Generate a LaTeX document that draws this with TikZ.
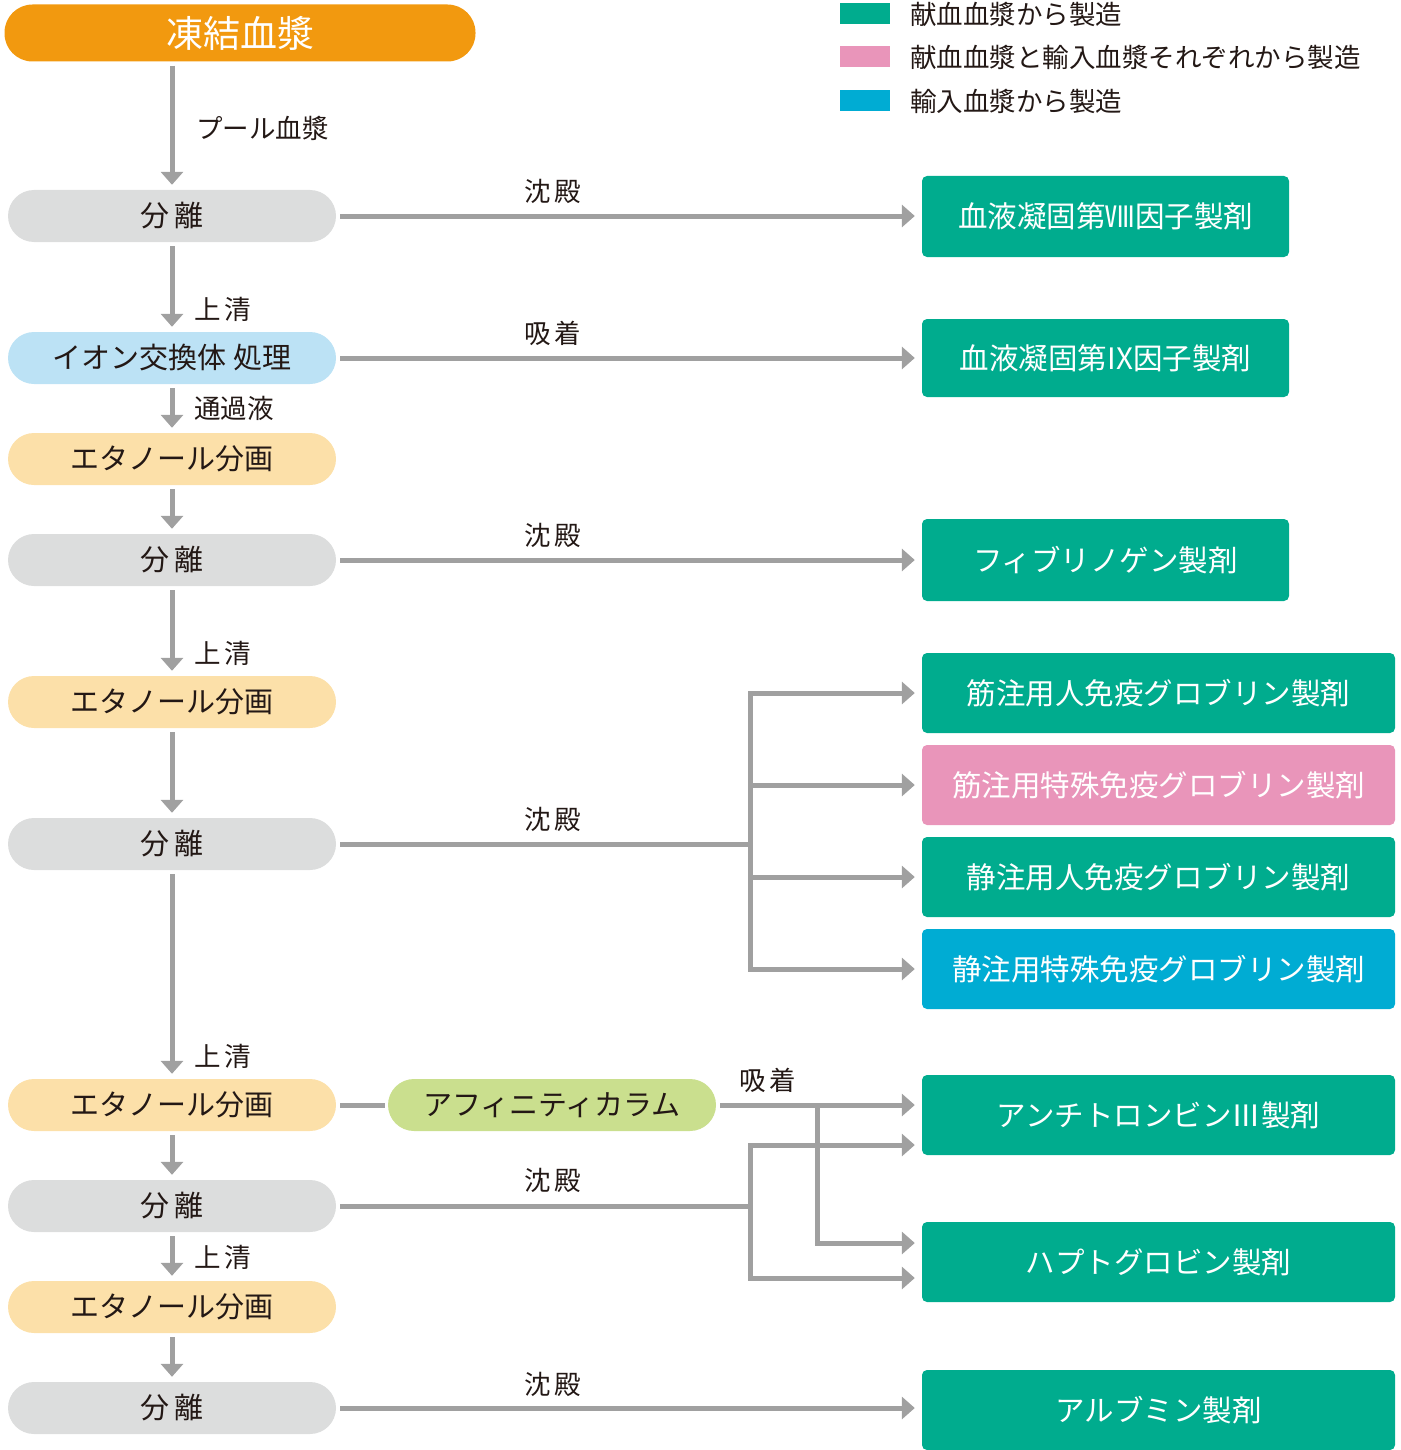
\documentclass[tikz,border=0pt]{standalone}
\usepackage{fontspec}
\setmainfont{Noto Sans CJK JP}
\usetikzlibrary{arrows.meta}
\definecolor{txt}{HTML}{231815}
\definecolor{cOrange}{HTML}{F2990F}
\definecolor{cGray}{HTML}{DCDDDD}
\definecolor{cLBlue}{HTML}{BCE2F5}
\definecolor{cLOrange}{HTML}{FCE0A9}
\definecolor{cGreen}{HTML}{CADF8E}
\definecolor{cTeal}{HTML}{00AC8E}
\definecolor{cPink}{HTML}{E995BA}
\definecolor{cBlue}{HTML}{00ACD3}
\definecolor{cArrow}{HTML}{A0A0A0}
\tikzset{
  pill/.style={rectangle, rounded corners=26pt, minimum width=328pt, minimum height=52pt, inner sep=0pt, text=txt, font=\fontsize{29pt}{31pt}\selectfont},
  prod/.style={rectangle, rounded corners=5pt, minimum height=80pt, inner sep=0pt, text=white, fill=cTeal, font=\fontsize{29.5pt}{31pt}\selectfont},
  lab/.style={text=txt, inner sep=0pt, font=\fontsize{26.5pt}{28pt}\selectfont},
  arr/.style={draw=cArrow, line width=5pt, -{Triangle[width=22pt,length=13pt]}},
  ln/.style={draw=cArrow, line width=5pt},
  vdown/.style={arr, shorten <=4pt, shorten >=5pt},
  hright/.style={arr, shorten <=4pt, shorten >=7pt},
}
\begin{document}
\begin{tikzpicture}[x=1pt,y=-1pt]
\useasboundingbox (0,0) rectangle (1400,1450);
% legend
\fill[cTeal] (840,3) rectangle (890,24);
\fill[cPink] (840,46) rectangle (890,67);
\fill[cBlue] (840,90) rectangle (890,111);
\node[lab, anchor=west] (lg1) at (910,14) {献血血漿から製造};
\node[lab, anchor=west] (lg2) at (910,57) {献血血漿と輸入血漿それぞれから製造};
\node[lab, anchor=west] (lg3) at (910,101) {輸入血漿から製造};
% left column
\node[rectangle, rounded corners=28pt, minimum width=471pt, minimum height=57pt, inner sep=0pt, fill=cOrange, text=white, font=\fontsize{37pt}{39pt}\selectfont] (top) at (240,33) {凍結血漿};
\node[pill, fill=cGray] (s1) at (172,216) {分\hspace{5pt}離};
\node[pill, fill=cLBlue] (ion) at (172,358) {イオン交換体 処理};
\node[pill, fill=cLOrange] (e1) at (172,459) {エタノール分画};
\node[pill, fill=cGray] (s2) at (172,560) {分\hspace{5pt}離};
\node[pill, fill=cLOrange] (e2) at (172,702) {エタノール分画};
\node[pill, fill=cGray] (s3) at (172,844) {分\hspace{5pt}離};
\node[pill, fill=cLOrange] (e3) at (172,1105) {エタノール分画};
\node[pill, fill=cGray] (s4) at (172,1206) {分\hspace{5pt}離};
\node[pill, fill=cLOrange] (e4) at (172,1307) {エタノール分画};
\node[pill, fill=cGray] (s5) at (172,1408) {分\hspace{5pt}離};
\node[pill, fill=cGreen, minimum width=328pt] (aff) at (552,1105) {アフィニティカラム};
% products
\node[prod, minimum width=367pt, minimum height=81pt] (p8) at (1105.5,216.5) {血液凝固第Ⅷ因子製剤};
\node[prod, minimum width=367pt, minimum height=78pt] (p9) at (1105.5,358) {血液凝固第IX因子製剤};
\node[prod, minimum width=367pt, minimum height=82pt] (fib) at (1105.5,560) {フィブリノゲン製剤};
\node[prod, minimum width=473pt] (ig1) at (1158.5,693) {筋注用人免疫グロブリン製剤};
\node[prod, minimum width=473pt, fill=cPink] (ig2) at (1158.5,785) {筋注用特殊免疫グロブリン製剤};
\node[prod, minimum width=473pt] (ig3) at (1158.5,877) {静注用人免疫グロブリン製剤};
\node[prod, minimum width=473pt, fill=cBlue] (ig4) at (1158.5,969) {静注用特殊免疫グロブリン製剤};
\node[prod, minimum width=473pt] (at) at (1158.5,1115) {アンチトロンビンⅢ製剤};
\node[prod, minimum width=473pt] (hp) at (1158.5,1262) {ハプトグロビン製剤};
\node[prod, minimum width=473pt] (alb) at (1158.5,1410) {アルブミン製剤};
% vertical arrows
\draw[vdown] (s1.north |- top.south) -- (s1.north);
\draw[vdown] (s1.south) -- (ion.north);
\draw[vdown] (ion.south) -- (e1.north);
\draw[vdown] (e1.south) -- (s2.north);
\draw[vdown] (s2.south) -- (e2.north);
\draw[vdown] (e2.south) -- (s3.north);
\draw[vdown] (s3.south) -- (e3.north);
\draw[vdown] (e3.south) -- (s4.north);
\draw[vdown] (s4.south) -- (e4.north);
\draw[vdown] (e4.south) -- (s5.north);
% vertical labels
\node[lab, anchor=west] (l0) at (196,128) {プール血漿};
\node[lab, anchor=west] (l1) at (194,309) {上\hspace{4pt}清};
\node[lab, anchor=west] (l2) at (194,408) {通過液};
\node[lab, anchor=west] (l3) at (194,653) {上\hspace{4pt}清};
\node[lab, anchor=west] (l4) at (194,1056) {上\hspace{4pt}清};
\node[lab, anchor=west] (l5) at (194,1257) {上\hspace{4pt}清};
% horizontal arrows
\draw[hright] (s1.east) -- (s1.east -| p8.west);
\draw[hright] (ion.east) -- (ion.east -| p9.west);
\draw[hright] (s2.east) -- (s2.east -| fib.west);
\draw[hright] (s5.east) -- (s5.east -| alb.west);
\node[lab] (h1) at (553,191) {沈\hspace{4pt}殿};
\node[lab] (h2) at (553,333) {吸\hspace{4pt}着};
\node[lab] (h3) at (553,535) {沈\hspace{4pt}殿};
\node[lab] (h4) at (553,819) {沈\hspace{4pt}殿};
\node[lab] (h5) at (553,1180) {沈\hspace{4pt}殿};
\node[lab] (h6) at (553,1384) {沈\hspace{4pt}殿};
\node[lab] (h7) at (768,1080) {吸\hspace{4pt}着};
% immunoglobulin branch
\coordinate (b1) at (750,844);
\draw[ln, shorten <=4pt] (s3.east) -- (b1);
\draw[arr, shorten >=7pt] (b1) |- (ig1.west);
\draw[arr, shorten >=7pt] (b1) |- (ig2.west);
\draw[arr, shorten >=7pt] (b1) |- (ig3.west);
\draw[arr, shorten >=7pt] (b1) |- (ig4.west);
% affinity branch
\draw[ln, shorten <=4pt, shorten >=3pt] (e3.east) -- (aff.west);
\coordinate (b2) at (817,1105);
\draw[arr, shorten <=4pt, shorten >=7pt] (aff.east) -- (aff.east -| at.west);
\draw[arr, shorten >=7pt] (b2) |- ([yshift=19pt]hp.west);
% separation branch
\coordinate (b3) at (750,1206);
\draw[ln, shorten <=4pt] (s4.east) -- (b3);
\draw[arr, shorten >=7pt] (b3) |- ([yshift=-30pt]at.west);
\draw[arr, shorten >=7pt] (b3) |- ([yshift=-16pt]hp.west);
\end{tikzpicture}
\end{document}
